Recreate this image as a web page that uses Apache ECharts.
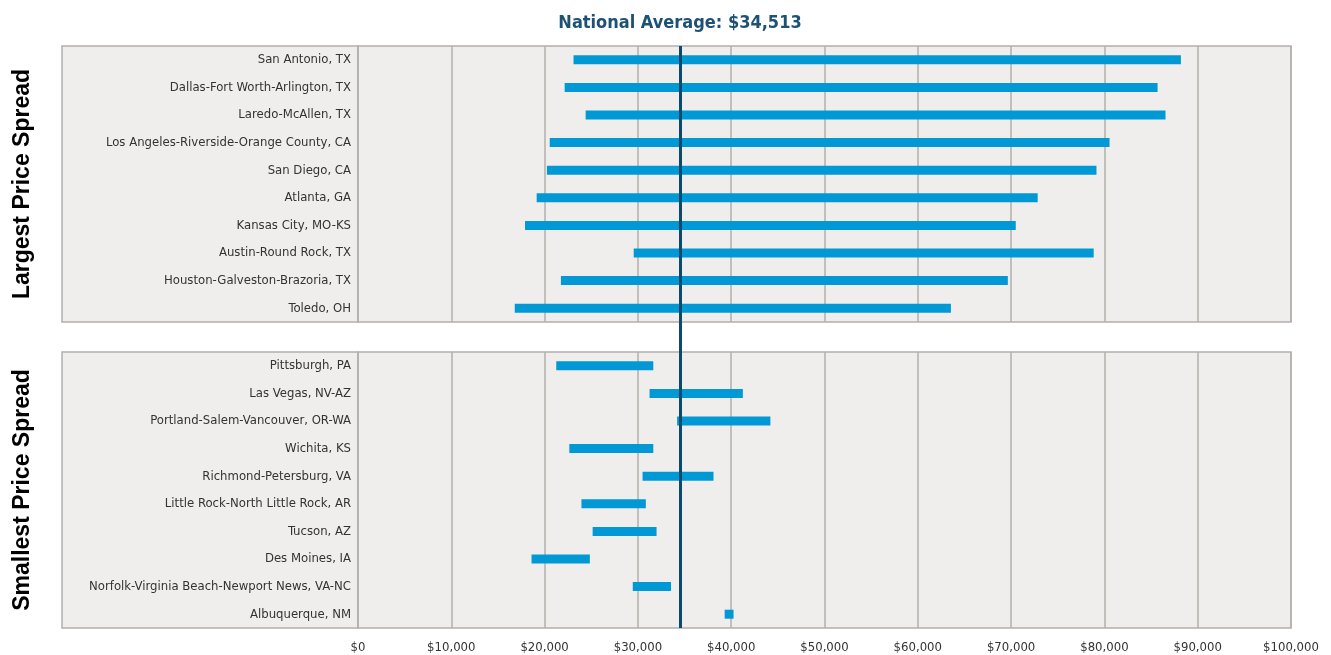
<!DOCTYPE html>
<html lang="en">
<head>
    <meta charset="UTF-8">
    <title>Price Spread</title>
    <script src="https://cdn.jsdelivr.net/npm/echarts@6/dist/echarts.min.js"></script>
    <style>
        * { padding: 0; margin: 0; }
        body { background: #fff; }
        #chart { width: 1331px; height: 655px; }
    </style>
</head>
<body>
<div id="chart"></div>
<script>
    // largest spread metros (top to bottom)
    var largeCities = ["San Antonio, TX", "Dallas-Fort Worth-Arlington, TX", "Laredo-McAllen, TX",
        "Los Angeles-Riverside-Orange County, CA", "San Diego, CA", "Atlanta, GA", "Kansas City, MO-KS",
        "Austin-Round Rock, TX", "Houston-Galveston-Brazoria, TX", "Toledo, OH"];
    var largeLow = [23100, 22150, 24400, 20550, 20250, 19150, 17900, 29550, 21750, 16800];
    var largeHigh = [88200, 85700, 86550, 80550, 79150, 72850, 70500, 78850, 69650, 63550];

    // smallest spread metros
    var smallCities = ["Pittsburgh, PA", "Las Vegas, NV-AZ", "Portland-Salem-Vancouver, OR-WA", "Wichita, KS",
        "Richmond-Petersburg, VA", "Little Rock-North Little Rock, AR", "Tucson, AZ", "Des Moines, IA",
        "Norfolk-Virginia Beach-Newport News, VA-NC", "Albuquerque, NM"];
    var smallLow = [21250, 31250, 34200, 22650, 30500, 23950, 25150, 18600, 29450, 39300];
    var smallHigh = [31650, 41250, 44200, 31650, 38100, 30850, 32000, 24850, 33550, 40250];

    var xTicks = [0, 10000, 20000, 30000, 40000, 50000, 60000, 70000, 80000, 90000, 100000];
    var nationalAvg = 34513;

    var narrow = '"Liberation Sans Narrow", "Arial Narrow", "DejaVu Sans Condensed", sans-serif';
    var gridColor = '#b3afaa';
    var barColor = '#0099d6';

    function spread(low, high) {
        return high.map(function (h, i) { return h - low[i]; });
    }
    function money(v) {
        return '$' + v.toLocaleString('en-US');
    }

    var chart = echarts.init(document.getElementById('chart'));

    function xAxisFor(idx, showLabels) {
        return {
            type: 'value', gridIndex: idx, min: xTicks[0], max: xTicks[xTicks.length - 1], interval: 10000,
            axisLine: { show: false }, axisTick: { show: false },
            splitLine: { show: true, lineStyle: { color: gridColor, width: 1.5 } },
            axisLabel: { show: showLabels, margin: 13, color: '#333', fontFamily: narrow, fontSize: 13, formatter: money }
        };
    }
    function yAxisFor(idx, cats, name) {
        return {
            type: 'category', gridIndex: idx, data: cats, inverse: true,
            axisLine: { show: false }, axisTick: { show: false }, splitLine: { show: false },
            axisLabel: { margin: 7, color: '#333', fontFamily: narrow, fontSize: 13 },
            name: name, nameLocation: 'middle', nameRotate: 90, nameGap: 324,
            nameTextStyle: { fontFamily: '"Liberation Sans", Arial, sans-serif', fontWeight: 'bold', fontSize: 23, color: '#000' }
        };
    }
    function barPair(idx, low, high) {
        return [{
            type: 'bar', xAxisIndex: idx, yAxisIndex: idx, stack: 'r' + idx, data: low,
            barWidth: 9, itemStyle: { color: 'transparent' }, silent: true
        }, {
            type: 'bar', xAxisIndex: idx, yAxisIndex: idx, stack: 'r' + idx, data: spread(low, high),
            barWidth: 9, itemStyle: { color: barColor }
        }];
    }

    var option = {
        animation: false,
        backgroundColor: '#fff',
        graphic: [
            { type: 'rect', shape: { x: 62, y: 46, width: 296, height: 276 }, style: { fill: '#efeeec', stroke: gridColor, lineWidth: 1.5 }, z: -1 },
            { type: 'rect', shape: { x: 62, y: 352, width: 296, height: 276 }, style: { fill: '#efeeec', stroke: gridColor, lineWidth: 1.5 }, z: -1 }
        ],
        grid: [
            { left: 358, right: 40, top: 46, height: 276, show: true, backgroundColor: '#efeeec', borderColor: gridColor, borderWidth: 1.5 },
            { left: 358, right: 40, top: 352, height: 276, show: true, backgroundColor: '#efeeec', borderColor: gridColor, borderWidth: 1.5 },
            { left: 358, right: 40, top: 46, bottom: 27 }
        ],
        xAxis: [
            xAxisFor(0, false),
            xAxisFor(1, true),
            { type: 'value', gridIndex: 2, min: xTicks[0], max: xTicks[xTicks.length - 1], show: false }
        ],
        yAxis: [
            yAxisFor(0, largeCities, 'Largest Price Spread'),
            yAxisFor(1, smallCities, 'Smallest Price Spread'),
            { type: 'value', gridIndex: 2, min: 0, max: 1, show: false }
        ],
        series: barPair(0, largeLow, largeHigh).concat(barPair(1, smallLow, smallHigh)).concat([{
            type: 'scatter', xAxisIndex: 2, yAxisIndex: 2, data: [], z: 10,
            markLine: {
                silent: true, symbol: ['none', 'none'],
                lineStyle: { color: '#0b4a6b', width: 3, type: 'solid' },
                label: {
                    show: true, position: 'end', distance: 14,
                    formatter: 'National Average: ' + money(nationalAvg),
                    color: '#1d5275', fontFamily: narrow, fontWeight: 'bold', fontSize: 18
                },
                data: [{ xAxis: nationalAvg }]
            }
        }])
    };
    chart.setOption(option);
</script>
</body>
</html>
